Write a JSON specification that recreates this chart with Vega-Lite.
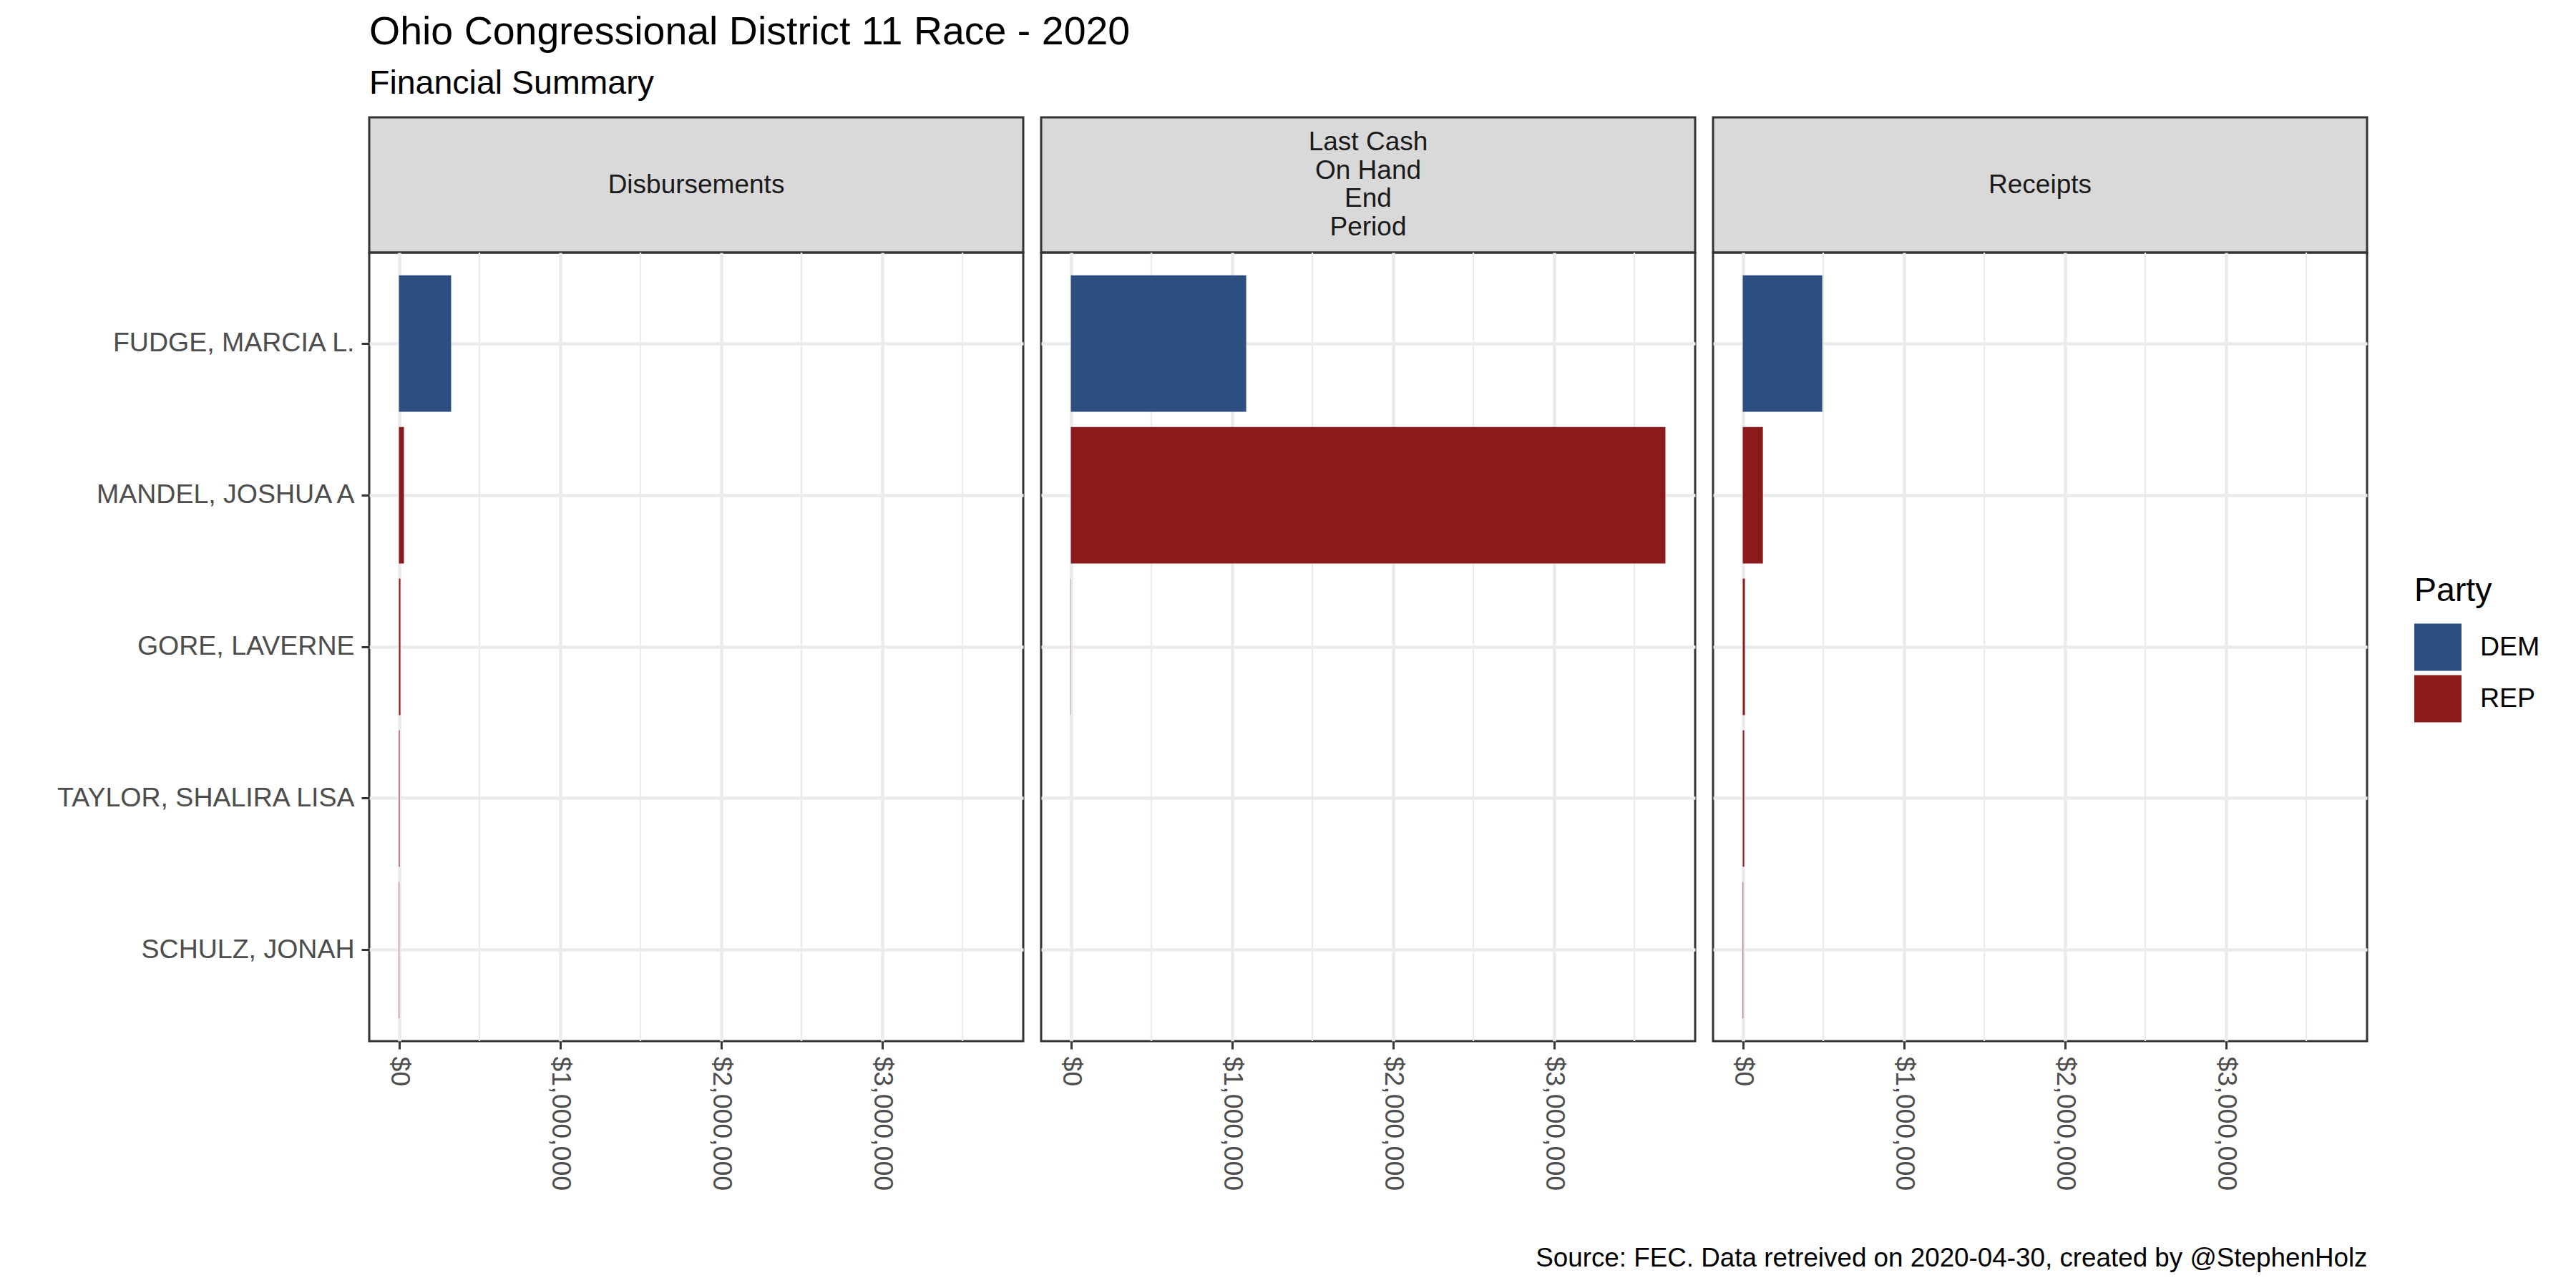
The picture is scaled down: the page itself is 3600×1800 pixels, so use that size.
{
  "$schema": "https://vega.github.io/schema/vega-lite/v6.json",
  "background": "white",
  "padding": {"left": 76, "top": 17, "right": 10, "bottom": 10},
  "title": {
    "text": "Ohio Congressional District 11 Race - 2020",
    "subtitle": "Financial Summary",
    "anchor": "start",
    "frame": "group",
    "font": "Liberation Sans",
    "subtitleFont": "Liberation Sans",
    "fontSize": 55.5,
    "subtitleFontSize": 46.5,
    "fontWeight": "normal",
    "subtitleFontWeight": "normal",
    "color": "black",
    "subtitleColor": "black",
    "offset": 22,
    "subtitlePadding": 21
  },
  "datasets": {
    "fin": [
      {"candidate": "FUDGE, MARCIA L.", "party": "DEM", "metric": "Disbursements", "value": 324000},
      {"candidate": "MANDEL, JOSHUA A", "party": "REP", "metric": "Disbursements", "value": 31000},
      {"candidate": "GORE, LAVERNE", "party": "REP", "metric": "Disbursements", "value": 9000},
      {"candidate": "TAYLOR, SHALIRA LISA", "party": "REP", "metric": "Disbursements", "value": 4000},
      {"candidate": "SCHULZ, JONAH", "party": "REP", "metric": "Disbursements", "value": 2500},
      {"candidate": "FUDGE, MARCIA L.", "party": "DEM", "metric": "Last Cash\nOn Hand\nEnd\nPeriod", "value": 1089000},
      {"candidate": "MANDEL, JOSHUA A", "party": "REP", "metric": "Last Cash\nOn Hand\nEnd\nPeriod", "value": 3693000},
      {"candidate": "GORE, LAVERNE", "party": "REP", "metric": "Last Cash\nOn Hand\nEnd\nPeriod", "value": 1500},
      {"candidate": "TAYLOR, SHALIRA LISA", "party": "REP", "metric": "Last Cash\nOn Hand\nEnd\nPeriod", "value": 0},
      {"candidate": "SCHULZ, JONAH", "party": "REP", "metric": "Last Cash\nOn Hand\nEnd\nPeriod", "value": 0},
      {"candidate": "FUDGE, MARCIA L.", "party": "DEM", "metric": "Receipts", "value": 494000},
      {"candidate": "MANDEL, JOSHUA A", "party": "REP", "metric": "Receipts", "value": 125000},
      {"candidate": "GORE, LAVERNE", "party": "REP", "metric": "Receipts", "value": 13000},
      {"candidate": "TAYLOR, SHALIRA LISA", "party": "REP", "metric": "Receipts", "value": 9000},
      {"candidate": "SCHULZ, JONAH", "party": "REP", "metric": "Receipts", "value": 3000}
    ],
    "minorGrid": [
      {"tick": 500000}, {"tick": 1500000}, {"tick": 2500000}, {"tick": 3500000}
    ]
  },
  "bounds": "flush",
  "columns": 3,
  "spacing": {"row": 0, "column": 25},
  "concat": [
    {
      "width": 914, "height": 189,
      "view": {"fill": "#D9D9D9", "stroke": "#333333", "strokeWidth": 3},
      "data": {"name": "fin"},
      "transform": [
        {"filter": {"field": "metric", "equal": "Disbursements"}},
        {"aggregate": [{"op": "count", "as": "n"}], "groupby": ["metric"]}
      ],
      "mark": {"type": "text", "font": "Liberation Sans", "fontSize": 37, "color": "#1A1A1A", "lineBreak": "\n", "lineHeight": 39.6, "align": "center", "baseline": "middle"},
      "encoding": {
        "text": {"field": "metric", "type": "nominal"},
        "x": {"datum": 0.5, "type": "quantitative", "scale": {"domain": [0, 1]}, "axis": null},
        "y": {"datum": 0.5, "type": "quantitative", "scale": {"domain": [0, 1]}, "axis": null}
      }
    },
    {
      "width": 914, "height": 189,
      "view": {"fill": "#D9D9D9", "stroke": "#333333", "strokeWidth": 3},
      "data": {"name": "fin"},
      "transform": [
        {"filter": {"field": "metric", "equal": "Last Cash\nOn Hand\nEnd\nPeriod"}},
        {"aggregate": [{"op": "count", "as": "n"}], "groupby": ["metric"]}
      ],
      "mark": {"type": "text", "font": "Liberation Sans", "fontSize": 37, "color": "#1A1A1A", "lineBreak": "\n", "lineHeight": 39.6, "align": "center", "baseline": "middle", "dy": -59.4},
      "encoding": {
        "text": {"field": "metric", "type": "nominal"},
        "x": {"datum": 0.5, "type": "quantitative", "scale": {"domain": [0, 1]}, "axis": null},
        "y": {"datum": 0.5, "type": "quantitative", "scale": {"domain": [0, 1]}, "axis": null}
      }
    },
    {
      "width": 914, "height": 189,
      "view": {"fill": "#D9D9D9", "stroke": "#333333", "strokeWidth": 3},
      "data": {"name": "fin"},
      "transform": [
        {"filter": {"field": "metric", "equal": "Receipts"}},
        {"aggregate": [{"op": "count", "as": "n"}], "groupby": ["metric"]}
      ],
      "mark": {"type": "text", "font": "Liberation Sans", "fontSize": 37, "color": "#1A1A1A", "lineBreak": "\n", "lineHeight": 39.6, "align": "center", "baseline": "middle"},
      "encoding": {
        "text": {"field": "metric", "type": "nominal"},
        "x": {"datum": 0.5, "type": "quantitative", "scale": {"domain": [0, 1]}, "axis": null},
        "y": {"datum": 0.5, "type": "quantitative", "scale": {"domain": [0, 1]}, "axis": null}
      }
    },
    {
      "width": 914, "height": 1102,
      "view": {"stroke": "#333333", "strokeWidth": 3},
      "layer": [
        {
          "data": {"name": "minorGrid"},
          "mark": {"type": "rule", "color": "#EBEBEB", "strokeWidth": 2.3},
          "encoding": {"x": {"field": "tick", "type": "quantitative", "title": null}}
        },
        {
          "data": {"name": "fin"},
          "transform": [{"filter": {"field": "metric", "equal": "Disbursements"}}],
          "mark": {"type": "bar"},
          "encoding": {
            "y": {
              "field": "candidate", "type": "nominal",
              "sort": ["FUDGE, MARCIA L.", "MANDEL, JOSHUA A", "GORE, LAVERNE", "TAYLOR, SHALIRA LISA", "SCHULZ, JONAH"],
              "scale": {"paddingInner": 0.1, "paddingOuter": 0.15},
              "axis": {"title": null, "domain": false, "ticks": true, "tickSize": 11, "tickWidth": 3, "tickColor": "#333333", "labelFont": "Liberation Sans", "labelFontSize": 37.5, "labelColor": "#4D4D4D", "labelPadding": 10, "labelLimit": 0, "grid": true, "gridColor": "#EBEBEB", "gridWidth": 4.5, "bandPosition": 0.5}
            },
            "x": {
              "field": "value", "type": "quantitative",
              "scale": {"domain": [-184650, 3877650], "nice": false, "zero": false},
              "axis": {"title": null, "values": [0, 1000000, 2000000, 3000000], "format": "$,.0f", "labelAngle": 90, "labelFont": "Liberation Sans", "labelFontSize": 37.5, "labelColor": "#4D4D4D", "labelPadding": 10, "labelLimit": 0, "labelFlush": false, "labelOverlap": false, "tickSize": 11, "tickWidth": 3, "tickColor": "#333333", "domain": false, "grid": true, "gridColor": "#EBEBEB", "gridWidth": 4.5}
            },
            "color": {
              "field": "party", "type": "nominal",
              "scale": {"domain": ["DEM", "REP"], "range": ["#2C4E80", "#8B1A1C"]},
              "legend": {"title": "Party", "orient": "none", "legendX": 2858, "legendY": 639, "symbolType": "square", "symbolSize": 4356, "symbolStrokeWidth": 0, "symbolOpacity": 1, "titleFont": "Liberation Sans", "titleFontSize": 46.5, "titleFontWeight": "normal", "titleColor": "black", "titlePadding": 22, "labelFont": "Liberation Sans", "labelFontSize": 37.5, "labelColor": "black", "labelOffset": 26, "rowPadding": 6, "padding": 0}
            }
          }
        }
      ]
    },
    {
      "width": 914, "height": 1102,
      "view": {"stroke": "#333333", "strokeWidth": 3},
      "layer": [
        {
          "data": {"name": "minorGrid"},
          "mark": {"type": "rule", "color": "#EBEBEB", "strokeWidth": 2.3},
          "encoding": {"x": {"field": "tick", "type": "quantitative", "title": null}}
        },
        {
          "data": {"name": "fin"},
          "transform": [{"filter": {"field": "metric", "equal": "Last Cash\nOn Hand\nEnd\nPeriod"}}],
          "mark": {"type": "bar"},
          "encoding": {
            "y": {
              "field": "candidate", "type": "nominal",
              "sort": ["FUDGE, MARCIA L.", "MANDEL, JOSHUA A", "GORE, LAVERNE", "TAYLOR, SHALIRA LISA", "SCHULZ, JONAH"],
              "scale": {"paddingInner": 0.1, "paddingOuter": 0.15},
              "axis": {"title": null, "domain": false, "ticks": false, "labels": false, "grid": true, "gridColor": "#EBEBEB", "gridWidth": 4.5, "bandPosition": 0.5}
            },
            "x": {
              "field": "value", "type": "quantitative",
              "scale": {"domain": [-184650, 3877650], "nice": false, "zero": false},
              "axis": {"title": null, "values": [0, 1000000, 2000000, 3000000], "format": "$,.0f", "labelAngle": 90, "labelFont": "Liberation Sans", "labelFontSize": 37.5, "labelColor": "#4D4D4D", "labelPadding": 10, "labelLimit": 0, "labelFlush": false, "labelOverlap": false, "tickSize": 11, "tickWidth": 3, "tickColor": "#333333", "domain": false, "grid": true, "gridColor": "#EBEBEB", "gridWidth": 4.5}
            },
            "color": {
              "field": "party", "type": "nominal",
              "scale": {"domain": ["DEM", "REP"], "range": ["#2C4E80", "#8B1A1C"]}
            }
          }
        }
      ]
    },
    {
      "width": 914, "height": 1102,
      "view": {"stroke": "#333333", "strokeWidth": 3},
      "layer": [
        {
          "data": {"name": "minorGrid"},
          "mark": {"type": "rule", "color": "#EBEBEB", "strokeWidth": 2.3},
          "encoding": {"x": {"field": "tick", "type": "quantitative", "title": "Source: FEC. Data retreived on 2020-04-30, created by @StephenHolz"}}
        },
        {
          "data": {"name": "fin"},
          "transform": [{"filter": {"field": "metric", "equal": "Receipts"}}],
          "mark": {"type": "bar"},
          "encoding": {
            "y": {
              "field": "candidate", "type": "nominal",
              "sort": ["FUDGE, MARCIA L.", "MANDEL, JOSHUA A", "GORE, LAVERNE", "TAYLOR, SHALIRA LISA", "SCHULZ, JONAH"],
              "scale": {"paddingInner": 0.1, "paddingOuter": 0.15},
              "axis": {"title": null, "domain": false, "ticks": false, "labels": false, "grid": true, "gridColor": "#EBEBEB", "gridWidth": 4.5, "bandPosition": 0.5}
            },
            "x": {
              "field": "value", "type": "quantitative",
              "title": "Source: FEC. Data retreived on 2020-04-30, created by @StephenHolz",
              "scale": {"domain": [-184650, 3877650], "nice": false, "zero": false},
              "axis": {"titleAnchor": "end", "titleAlign": "right", "titleFont": "Liberation Sans", "titleFontSize": 36.8, "titleFontWeight": "normal", "titleColor": "black", "titlePadding": 85, "values": [0, 1000000, 2000000, 3000000], "format": "$,.0f", "labelAngle": 90, "labelFont": "Liberation Sans", "labelFontSize": 37.5, "labelColor": "#4D4D4D", "labelPadding": 10, "labelLimit": 0, "labelFlush": false, "labelOverlap": false, "tickSize": 11, "tickWidth": 3, "tickColor": "#333333", "domain": false, "grid": true, "gridColor": "#EBEBEB", "gridWidth": 4.5}
            },
            "color": {
              "field": "party", "type": "nominal",
              "scale": {"domain": ["DEM", "REP"], "range": ["#2C4E80", "#8B1A1C"]}
            }
          }
        }
      ]
    }
  ]
}
